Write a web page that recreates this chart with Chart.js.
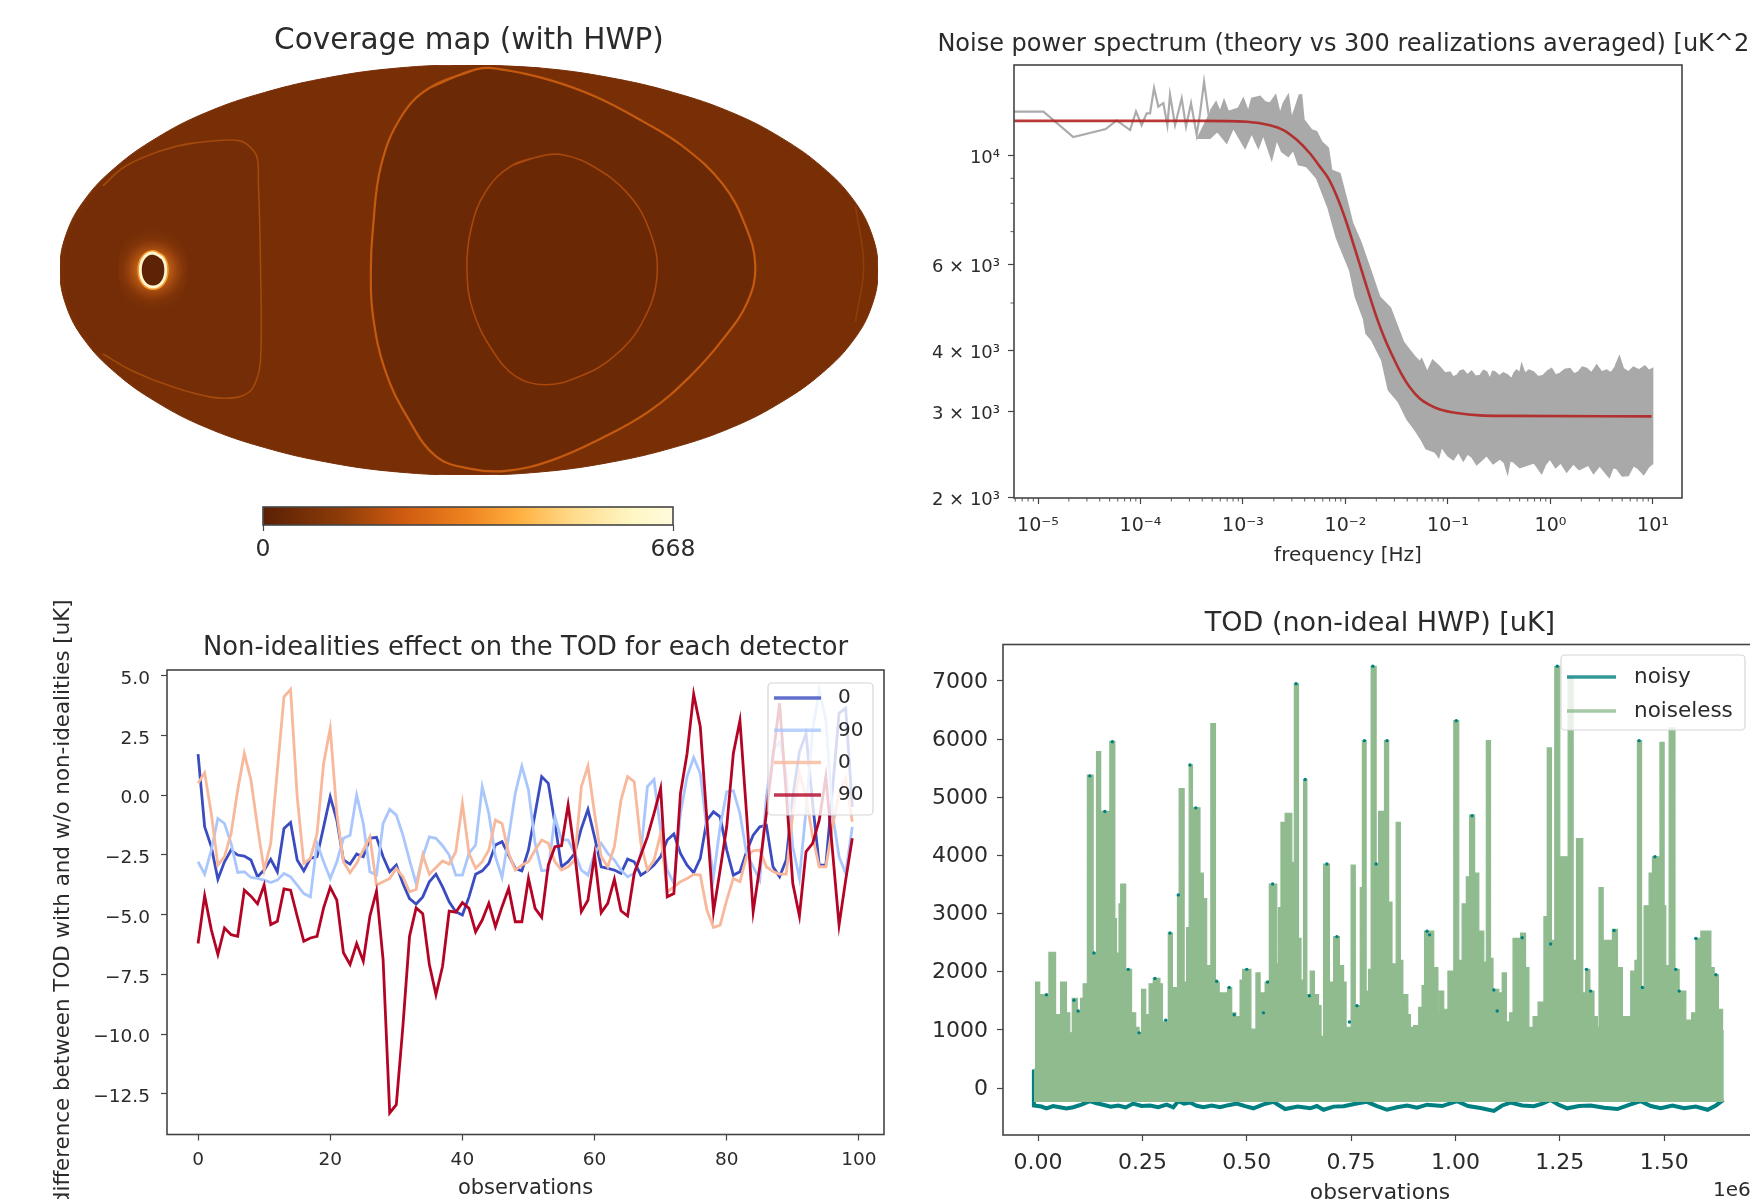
<!DOCTYPE html>
<html>
<head>
<meta charset="utf-8">
<title>Coverage, noise and TOD</title>
<script src="https://cdn.jsdelivr.net/npm/chart.js@4/dist/chart.umd.min.js"></script>
<style>
  html, body { margin: 0; padding: 0; background: #fff; width: 1750px; height: 1199px; overflow: hidden; }
  canvas { position: absolute; filter: blur(0.6px); }
</style>
</head>
<body>
<canvas id="mapChart" width="900" height="490" style="left:0;top:0"></canvas>
<canvas id="barChart" width="540" height="80" style="left:200px;top:490px"></canvas>
<canvas id="psdChart" width="896" height="590" style="left:900px;top:0"></canvas>
<canvas id="diffChart" width="900" height="650" style="left:0;top:590px"></canvas>
<canvas id="todChart" width="900" height="650" style="left:900px;top:590px"></canvas>
<script>
// --- coverage map outlines, in Mollweide plot units (x -2..2, y -1..1)
const skyX = [0,0.35,0.68,1,1.29,1.53,1.73,1.88,1.97,2,1.97,1.88,1.73,1.53,1.29,1,0.68,0.35,0,-0.35,-0.68,-1,-1.29,-1.53,-1.73,-1.88,-1.97,-2,-1.97,-1.88,-1.73,-1.53,-1.29,-1,-0.68,-0.35,0,0.35];
const skyY = [1,0.985,0.94,0.866,0.766,0.643,0.5,0.342,0.174,0,-0.174,-0.342,-0.5,-0.643,-0.766,-0.866,-0.94,-0.985,-1,-0.985,-0.94,-0.866,-0.766,-0.643,-0.5,-0.342,-0.174,0,0.174,0.342,0.5,0.643,0.766,0.866,0.94,0.985,1,0.985];
const bigX = [0.04,-0.19,-0.33,-0.43,-0.47,-0.48,-0.47,-0.41,-0.30,-0.16,0.01,0.18,0.40,0.65,0.88,1.08,1.24,1.36,1.40,1.35,1.24,1.05,0.85,0.62,0.40,0.18,0.04,-0.19];
const bigY = [0.98,0.89,0.75,0.51,0.20,0,-0.22,-0.49,-0.72,-0.91,-0.97,-0.98,-0.93,-0.82,-0.69,-0.52,-0.34,-0.16,0.02,0.22,0.42,0.60,0.725,0.845,0.925,0.975,0.98,0.89];
const ovalX = [0.37,0.21,0.08,0.01,-0.01,0.02,0.12,0.23,0.37,0.54,0.71,0.85,0.92,0.88,0.77,0.60,0.47,0.37,0.21];
const ovalY = [0.56,0.51,0.38,0.20,0,-0.20,-0.40,-0.52,-0.56,-0.52,-0.42,-0.25,-0.02,0.20,0.38,0.51,0.56,0.56,0.51];
const leftX = [-1.79,-1.69,-1.51,-1.34,-1.12,-1.04,-1.03,-1.02,-1.02,-1.06,-1.13,-1.26,-1.45,-1.65,-1.79,-1.86,-1.95,-1.98,-1.95,-1.86,-1.79];
const leftY = [0.41,0.50,0.58,0.62,0.63,0.56,0.42,0.06,-0.45,-0.58,-0.62,-0.62,-0.57,-0.49,-0.41,-0.33,-0.17,0,0.17,0.33,0.41];
const edgeX = [-1.79,-1.69,-1.51,-1.34,-1.12,-1.04,-1.03,-1.02,-1.02,-1.06,-1.13,-1.26,-1.45,-1.65,-1.79];
const edgeY = [0.41,0.50,0.58,0.62,0.63,0.56,0.42,0.06,-0.45,-0.58,-0.62,-0.62,-0.57,-0.49,-0.41];
const arcX = [1.89,1.93,1.89];
const arcY = [0.31,0.02,-0.25];
const holeX = [-1.545,-1.50,-1.483,-1.50,-1.545,-1.59,-1.607,-1.59,-1.545,-1.50];
const holeY = [0.083,0.059,0,-0.059,-0.083,-0.059,0,0.059,0.083,0.059];
const haloX = [-1.545,-1.43,-1.375,-1.43,-1.545,-1.66,-1.715,-1.66,-1.545,-1.43];
const haloY = [0.26,0.18,0,-0.18,-0.26,-0.18,0,0.18,0.26,0.18];

// --- colour bar
const barMin = 0;
const barMax = 668;
const barStops = [0,0.18,0.34,0.5,0.62,0.76,0.9,1];
const barColors = ['#5a2005','#8a3a08','#cf5a10','#ee8420','#ffae3e','#ffdc8c','#fff6c4','#fffbdc'];

const lowLogF = [-5.234,-4.947,-4.656,-4.339,-4.233,-4.102,-4.044,-3.989,-3.940,-3.907,-3.868,-3.826,-3.777,-3.738,-3.712,-3.663,-3.598,-3.556,-3.507,-3.452,-3.419,-3.380,-3.338,-3.299];
const lowLogP = [4.0906,4.0906,4.0386,4.055,4.0726,4.053,4.091,4.063,4.087,4.087,4.139,4.101,4.108,4.063,4.125,4.063,4.118,4.060,4.108,4.043,4.087,4.152,4.087,4.043];
const upperLogF = [-3.322,-3.263,-3.224,-3.185,-3.143,-3.045,-2.997,-2.948,-2.915,-2.834,-2.785,-2.737,-2.681,-2.639,-2.606,-2.558,-2.525,-2.450,-2.428,-2.405,-2.330,-2.281,-2.232,-2.167,-2.135,-2.054,-1.984,-1.931,-1.852,-1.746,-1.667,-1.561,-1.436,-1.371,-1.322,-1.273,-1.257,-1.202,-1.150,
  -1.078,-1.03,-0.980,-0.95,-0.915,-0.88,-0.850,-0.81,-0.769,-0.73,-0.688,-0.655,-0.623,-0.590,-0.565,-0.542,-0.50,-0.460,-0.42,-0.379,-0.355,-0.330,-0.30,-0.281,-0.249,-0.21,-0.167,-0.12,-0.070,-0.03,0.011,0.05,0.093,0.14,0.190,0.23,0.272,0.31,0.353,0.40,0.451,0.50,0.548,0.59,0.629,0.672,0.711,0.76,0.808,0.865,0.922,0.96,0.997];
const upperLogP = [4.091,4.111,4.091,4.115,4.091,4.098,4.118,4.091,4.118,4.122,4.111,4.108,4.125,4.087,4.108,4.125,4.077,4.125,4.125,4.074,4.053,4.050,4.029,4.016,3.971,3.964,3.908,3.863,3.825,3.761,3.712,3.689,3.620,3.602,3.589,3.579,3.585,3.558,3.582,
  3.568,3.556,3.558,3.548,3.551,3.560,3.562,3.552,3.560,3.549,3.551,3.561,3.558,3.544,3.559,3.558,3.550,3.556,3.552,3.544,3.556,3.562,3.556,3.574,3.555,3.562,3.558,3.548,3.551,3.560,3.565,3.552,3.555,3.563,3.565,3.554,3.558,3.568,3.565,3.556,3.572,3.558,3.562,3.556,3.568,3.590,3.565,3.558,3.568,3.562,3.570,3.561,3.565];
const lowerLogF = [-3.452,-3.322,-3.250,-3.159,-3.094,-2.980,-2.915,-2.850,-2.802,-2.720,-2.671,-2.623,-2.558,-2.509,-2.460,-2.379,-2.281,-2.169,-2.090,-1.958,-1.905,-1.825,-1.799,-1.745,-1.647,-1.582,-1.485,-1.403,-1.322,-1.257,-1.215,
  -1.127,-1.09,-1.062,-1.0,-0.948,-0.899,-0.85,-0.81,-0.769,-0.72,-0.671,-0.623,-0.56,-0.493,-0.45,-0.418,-0.395,-0.363,-0.30,-0.233,-0.16,-0.086,-0.05,-0.005,0.05,0.10,0.158,0.223,0.28,0.369,0.42,0.48,0.574,0.61,0.646,0.70,0.759,0.81,0.857,0.91,0.96,0.997];
const lowerLogP = [4.036,4.036,4.050,4.026,4.057,4.016,4.046,4.016,4.043,3.992,4.033,4.009,3.999,4.012,3.982,3.978,3.954,3.893,3.833,3.765,3.712,3.667,3.636,3.623,3.582,3.521,3.497,3.462,3.439,3.418,3.401,
  3.394,3.383,3.404,3.386,3.378,3.394,3.376,3.390,3.384,3.368,3.377,3.387,3.370,3.380,3.372,3.350,3.376,3.374,3.362,3.367,3.372,3.350,3.368,3.380,3.362,3.372,3.353,3.370,3.358,3.367,3.350,3.366,3.342,3.362,3.360,3.345,3.346,3.366,3.360,3.348,3.364,3.370];
const theoryLogF = [-5.234,-4,-3.4,-2.964,-2.737,-2.606,-2.476,-2.346,-2.249,-2.167,-2.08,-2.0,-1.852,-1.692,-1.615,-1.533,-1.452,-1.371,-1.273,-1.176,-1.078,-0.915,-0.688,-0.428,0.987];
const theoryLogP = [4.0717,4.0717,4.0717,4.070,4.063,4.053,4.033,4.005,3.978,3.954,3.915,3.87,3.772,3.667,3.625,3.587,3.553,3.526,3.503,3.490,3.481,3.474,3.469,3.468,3.467];
const psdXTicks = [1e-5,1e-4,1e-3,1e-2,1e-1,1,10];
const psdXLabels = ['10⁻⁵','10⁻⁴','10⁻³','10⁻²','10⁻¹','10⁰','10¹'];
const psdYTicks = [2000,3000,4000,6000,10000];
const psdYLabels = ['2 × 10³','3 × 10³','4 × 10³','6 × 10³','10⁴'];
const psdXMinor = [6e-6,7e-6,8e-6,9e-6,2e-5,3e-5,4e-5,5e-5,6e-5,7e-5,8e-5,9e-5,2e-4,3e-4,4e-4,5e-4,6e-4,7e-4,8e-4,9e-4,2e-3,3e-3,4e-3,5e-3,6e-3,7e-3,8e-3,9e-3,2e-2,3e-2,4e-2,5e-2,6e-2,7e-2,8e-2,9e-2,0.2,0.3,0.4,0.5,0.6,0.7,0.8,0.9,2,3,4,5,6,7,8,9];
const psdYMinor = [5000,7000,8000,9000];

// --- non-ideality difference per detector, one value per observation
const detLabels = ['0','90','0','90'];
const detColors = ['#3b4cc0','#aac7fd','#f7b89c','#b40426'];
const det0a = [1.71,-1.33,-2.16,-3.52,-2.79,-2.30,-2.51,-2.55,-2.72,-3.42,-3.14,-2.69,-3.21,-1.40,-1.15,-2.72,-3.17,-2.65,-2.58,-1.33,-0.07,-1.05,-2.72,-2.89,-2.47,-2.58,-1.81,-1.77,-2.58,-3.21,-2.93,-3.70,-4.33,-4.56,-4.26,-3.63,-3.31,-3.84,-4.47,-4.88,-5.02,-4.26,-3.31,-3.17,-2.86,-2.09,-1.95,-2.51,-3.07,-3.17,-2.30,-0.77,0.77,0.49,-1.19,-3.00,-2.79,-2.44,-1.40,-0.60,-1.75,-3.00,-3.07,-3.14,-3.28,-2.68,-2.79,-3.35,-3.17,-2.93,-2.58,-1.88,-1.63,-2.44,-2.93,-3.25,-2.65,-1.05,-0.70,-0.91,-2.30,-3.35,-3.21,-2.37,-1.68,-1.33,-1.26,-3.00,-3.42,-2.72,-0.07,1.80,2.58,-0.35,-2.93,-2.93,0.21,3.42,3.63,-0.50];
const det90a = [-2.79,-3.31,-2.30,-0.98,-1.19,-2.02,-3.24,-3.21,-3.45,-3.49,-3.56,-3.66,-3.56,-3.28,-3.42,-3.77,-4.12,-4.26,-2.02,-2.79,-3.49,-2.79,-1.81,-1.68,0.0,-1.19,-3.21,-3.35,-1.19,-0.60,-0.84,-1.68,-2.72,-3.70,-2.58,-1.75,-1.81,-2.12,-2.51,-3.35,-3.35,-2.44,-2.09,0.35,-0.77,-2.58,-3.45,-1.75,0.07,1.21,0.21,-2.02,-3.17,-3.14,-0.91,-1.88,-1.88,-2.44,-3.14,-3.35,-2.44,-2.02,-2.44,-2.72,-3.14,-3.42,-3.28,-2.44,0.35,0.65,-1.47,-3.14,-3.70,-0.77,0.77,1.57,0.90,-1.47,-3.42,-1.33,0.14,0.18,-0.77,-2.44,-3.0,-3.56,-0.07,1.88,2.23,0.91,-2.16,-3.49,-0.63,2.72,4.39,3.14,-0.77,-2.58,-3.28,-1.33];
const det0b = [0.49,0.93,-0.77,-2.93,-2.58,-1.61,0.21,1.74,0.63,-1.33,-3.14,-2.02,1.04,4.11,4.42,-0.07,-2.86,-2.65,-1.61,1.32,2.79,-0.77,-2.79,-3.25,-2.86,-2.30,-1.75,-3.77,-3.63,-3.49,-3.07,-3.42,-4.05,-3.95,-2.51,-3.31,-3.03,-2.76,-2.89,-2.37,-0.35,-2.44,-3.07,-2.79,-2.30,-1.05,-1.19,-2.44,-3.14,-2.93,-2.79,-2.30,-1.88,-2.02,-2.79,-3.14,-3.00,-2.72,0.35,1.21,-0.77,-2.58,-3.00,-2.16,-0.21,0.77,0.56,-2.02,-3.14,-2.72,-1.61,-4.05,-3.84,-3.63,-3.49,-3.32,-3.35,-4.81,-5.54,-5.44,-4.40,-3.49,-3.63,-2.58,-2.33,-2.30,-3.0,-3.2,-3.31,-3.31,-0.77,0.91,-0.07,-1.74,-3.0,-3.0,-1.33,0.07,0.70,-1.12];
const det90b = [-6.21,-4.21,-5.63,-6.67,-5.56,-5.84,-5.91,-3.98,-4.23,-4.55,-3.77,-5.42,-5.28,-3.93,-3.98,-5.07,-6.12,-5.98,-5.91,-4.72,-3.86,-4.40,-6.60,-7.09,-6.21,-6.95,-5.07,-4.02,-6.88,-13.30,-12.95,-9.67,-5.91,-4.72,-4.96,-7.09,-8.35,-7.16,-4.86,-4.90,-4.50,-4.74,-5.72,-5.23,-4.53,-5.51,-4.67,-3.91,-5.30,-5.30,-3.49,-4.74,-5.12,-2.93,-2.16,-2.12,-0.42,-2.44,-4.88,-4.40,-2.51,-4.92,-4.53,-3.52,-4.84,-5.06,-3.28,-2.51,-1.75,-0.77,0.28,-4.26,-4.12,0.07,1.74,4.22,2.86,-1.05,-4.88,-3.14,-1.33,1.74,3.11,-0.77,-4.88,-3.0,-0.77,1.60,3.84,0.07,-3.70,-5.06,-2.37,-2.02,-1.05,0.77,-2.30,-5.44,-3.56,-1.81];
const diffXTicks = [0,20,40,60,80,100];
const diffYTicks = [5,2.5,0,-2.5,-5,-7.5,-10,-12.5];

// --- time ordered data, x in units of 1e6 observations
const todObs = [-0.010,-0.006,0.004,0.026,0.042,0.054,0.068,0.076,0.082,0.094,0.102,0.108,0.118,0.132,0.140,0.150,0.172,0.184,0.188,0.194,
  0.198,0.210,0.224,0.234,0.242,0.248,0.258,0.266,0.276,0.292,0.298,0.312,0.322,0.334,0.338,0.350,0.356,0.362,0.370,0.388,
  0.396,0.404,0.414,0.425,0.434,0.454,0.464,0.474,0.484,0.490,0.510,0.522,0.532,0.544,0.554,0.572,0.576,0.582,0.592,0.608,
  0.614,0.624,0.630,0.636,0.644,0.652,0.662,0.672,0.678,0.684,0.698,0.708,0.722,0.732,0.738,0.750,0.760,0.772,0.777,0.786,
  0.792,0.798,0.810,0.816,0.830,0.840,0.848,0.858,0.868,0.874,0.886,0.892,0.900,0.912,0.920,0.926,0.948,0.958,0.961,0.972,
  0.982,0.996,1.008,1.016,1.026,1.034,1.046,1.056,1.068,1.074,1.084,1.090,1.104,1.112,1.122,1.130,1.138,1.156,1.168,1.176,
  1.186,1.198,1.212,1.220,1.230,1.238,1.250,1.270,1.282,1.290,1.305,1.312,1.322,1.332,1.340,1.344,1.354,1.376,1.388,1.400,
  1.420,1.430,1.436,1.446,1.452,1.464,1.472,1.490,1.500,1.504,1.512,1.526,1.536,1.552,1.566,1.576,1.588,1.612,1.620,1.630,
  1.640,1.643];
const todNoiseless = [324,1822,1604,2334,1260,1822,1292,948,1541,1323,1541,1791,5379,2321,5784,4755,5959,2914,2321,3164,
  3507,2040,1292,1042,948,1697,1260,1791,1884,1791,1136,2664,1728,3320,5148,1822,2758,5554,4817,3694,
  3257,2103,6265,1822,1635,1728,1292,1229,1853,2040,1011,1978,1635,1822,3507,2134,3101,4568,4724,3881,
  6951,2571,1853,5304,1604,2009,1604,1416,886,3850,1822,2602,2103,1822,1042,3831,1416,3444,5972,1666,
  2040,7251,3850,4755,5972,3195,2134,4568,2196,1604,1260,1042,1073,1385,1760,2696,2072,1260,1666,1354,
  2009,6315,2196,3164,3632,4692,3694,2696,2165,5972,2228,1697,1635,1978,1136,1292,2571,2664,2072,1042,
  1229,1479,2945,5847,2540,7251,3975,7064,2196,4287,1635,2040,1666,1229,1042,3444,2540,2726,2072,1229,
  2009,2196,5972,1728,3133,3694,3975,5941,3133,2103,6190,2040,1666,1167,1292,2571,2696,2072,1947,1354,
  980,980];
const floorObs = [-0.010,-0.010,0.008,0.020,0.036,0.052,0.068,0.084,0.104,0.124,0.140,0.156,0.174,0.192,0.210,0.228,0.248,0.268,0.288,0.308,
  0.324,0.336,0.350,0.364,0.380,0.396,0.416,0.436,0.456,0.476,0.496,0.516,0.540,0.564,0.578,0.592,0.622,0.652,0.668,0.684,
  0.708,0.732,0.760,0.788,0.812,0.836,0.860,0.884,0.908,0.932,0.968,1.004,1.030,1.060,1.092,1.112,1.132,1.160,1.188,1.208,
  1.228,1.248,1.268,1.296,1.324,1.356,1.388,1.416,1.444,1.468,1.492,1.520,1.548,1.576,1.604,1.624,1.642];
const floorNoisy = [320,-300,-318,-349,-310,-331,-352,-331,-285,-225,-262,-287,-320,-300,-335,-268,-310,-300,-330,-287,
  -331,-225,-268,-250,-305,-331,-300,-331,-295,-268,-312,-349,-280,-237,-300,-362,-320,-349,-310,-374,
  -320,-312,-270,-237,-310,-374,-330,-300,-340,-287,-310,-225,-310,-345,-393,-300,-250,-300,-312,-270,
  -206,-290,-349,-310,-300,-340,-362,-290,-225,-310,-349,-300,-349,-320,-374,-300,-206];
const peakObs = [0.020,0.086,0.096,0.124,0.134,0.160,0.178,0.216,0.242,0.280,0.306,0.316,0.336,0.364,0.378,0.428,0.458,0.470,0.500,0.540,0.550,0.562,0.618,0.640,0.650,0.692,0.716,0.746,0.764,0.782,0.802,0.810,0.836,0.932,0.938,1.002,1.040,1.092,1.100,1.160,1.228,1.244,1.314,1.324,1.380,1.440,1.448,1.478,1.528,1.536,1.576,1.624];
const peakNoisy = [1604,1510,1323,5366,2321,4755,5953,2040,948,1884,1167,2664,3320,5554,4817,1835,1728,1260,2040,1292,1822,3507,6951,5304,1585,3850,2602,1136,1416,5972,7251,3850,5972,2696,2633,6315,4680,1685,1323,2583,2477,7251,2040,1666,2708,5972,1728,3975,2040,1666,2571,1947];
const todXTicks = [0,0.25,0.5,0.75,1,1.25,1.5];
const todYTicks = [0,1000,2000,3000,4000,5000,6000,7000];

// --- shared drawing bits
const FAMILY = '"DejaVu Sans", sans-serif';
const INK = '#2b2b2b';
const AXIS = '#454545';

function xy(xs, ys) { return xs.map((x, i) => ({x: x, y: ys[i]})); }
function logXY(xs, ys) { return xs.map((x, i) => ({x: Math.pow(10, x), y: Math.pow(10, ys[i])})); }

function fixedFont(size) { return {family: FAMILY, size: size, lineHeight: 1, weight: 'normal'}; }

// title sized so the plot top lands where it should
function titleOpts(text, size, cy, canvasTop, plotTop, full) {
  const top = cy - canvasTop - size / 2;
  return {display: true, text: text, color: INK, font: fixedFont(size), fullSize: !!full,
    padding: {top: top, bottom: plotTop - canvasTop - top - size}};
}

function axis(min, max, ticks, label, opts) {
  const o = opts || {};
  return {
    type: o.type || 'linear', min: min, max: max, offset: false,
    title: o.title || {display: false},
    grid: {drawOnChartArea: false, drawTicks: true, tickLength: 6, tickColor: AXIS, tickWidth: 1.2},
    border: {display: false},
    ticks: {color: INK, font: {family: FAMILY, size: o.size || 18.5}, padding: o.padding || 9,
      autoSkip: false, maxRotation: 0, minRotation: 0, includeBounds: false,
      callback: v => label(v)},
    afterBuildTicks: s => { s.ticks = ticks.map(v => ({value: v})); },
    afterFit: s => { if (s.isHorizontal()) s.height = o.box; else s.width = o.box; }
  };
}

const framePlugin = {
  id: 'frame',
  afterDatasetsDraw(chart) {
    const a = chart.chartArea, c = chart.ctx;
    c.save();
    c.strokeStyle = AXIS;
    c.lineWidth = 1.6;
    c.strokeRect(a.left, a.top, a.right - a.left, a.bottom - a.top);
    c.restore();
  }
};

// y tick text sits a little below its tick in the reference
const nudgePlugin = {
  id: 'nudgeY',
  beforeDraw(chart, args, o) {
    chart.scales.y.getLabelItems().forEach(it => { it.options.translation[1] += o.by || 0; });
  }
};

// short unlabelled ticks for the log axes
const minorPlugin = {
  id: 'minorMarks',
  afterDatasetsDraw(chart, args, opts) {
    const a = chart.chartArea, c = chart.ctx;
    c.save();
    c.strokeStyle = AXIS;
    c.lineWidth = 0.9;
    c.beginPath();
    (opts.x || []).forEach(v => {
      const p = chart.scales.x.getPixelForValue(v);
      c.moveTo(p, a.bottom); c.lineTo(p, a.bottom + 3.5);
    });
    (opts.y || []).forEach(v => {
      const p = chart.scales.y.getPixelForValue(v);
      c.moveTo(a.left, p); c.lineTo(a.left - 3.5, p);
    });
    c.stroke();
    c.restore();
  }
};

// matplotlib style frame over the data, the built in legend cannot overlap the plot
const boxLegend = {
  id: 'boxLegend',
  afterDraw(chart, args, o) {
    if (!o.items) return;
    const c = chart.ctx;
    c.save();
    c.beginPath();
    c.roundRect(o.x, o.y, o.w, o.h, 4);
    c.fillStyle = 'rgba(255,255,255,0.8)';
    c.fill();
    c.strokeStyle = '#d6d6d6';
    c.lineWidth = 1.2;
    c.stroke();
    c.font = o.size + 'px ' + FAMILY;
    c.textBaseline = 'middle';
    o.items.forEach((it, i) => {
      const y = o.first + i * o.step;
      c.strokeStyle = it.color;
      c.globalAlpha = 0.8;
      c.lineWidth = 3.5;
      c.beginPath();
      c.moveTo(o.x + o.handleX, y);
      c.lineTo(o.x + o.handleX + o.handleW, y);
      c.stroke();
      c.globalAlpha = 1;
      c.fillStyle = INK;
      c.fillText(it.text, o.x + o.textX, y);
    });
    c.restore();
  }
};

// axis offset text of the TOD panel
const offsetText = {
  id: 'offsetText',
  afterDraw(chart, args, o) {
    if (!o.text) return;
    const c = chart.ctx;
    c.save();
    c.font = o.size + 'px ' + FAMILY;
    c.fillStyle = INK;
    c.textBaseline = 'middle';
    c.fillText(o.text, o.x, o.y);
    c.restore();
  }
};

Chart.defaults.animation = false;
Chart.defaults.responsive = false;
Chart.defaults.maintainAspectRatio = false;
Chart.defaults.font.family = FAMILY;
Chart.defaults.plugins.tooltip.enabled = false;
Chart.defaults.plugins.legend.display = false;

function shape(points, fill, line, width, tension, order) {
  return {data: points, showLine: true, fill: fill ? 'shape' : false, backgroundColor: fill || 'transparent',
    borderColor: line || fill, borderWidth: width, tension: tension, pointRadius: 0, order: order};
}

// soft glow round the bright ring, fades out from the hole
function haloFill(ctx) {
  const ch = ctx.chart;
  if (!ch.chartArea) return 'transparent';
  const px = ch.scales.x.getPixelForValue(holeX[0]);
  const py = ch.scales.y.getPixelForValue(0);
  const g = ch.ctx.createRadialGradient(px, py, 8, px, py, 42);
  g.addColorStop(0, 'rgba(250,150,40,0.85)');
  g.addColorStop(0.35, 'rgba(235,120,30,0.45)');
  g.addColorStop(0.7, 'rgba(190,85,20,0.14)');
  g.addColorStop(1, 'rgba(190,85,20,0)');
  return g;
}

// --- coverage map
new Chart(document.getElementById('mapChart'), {
  type: 'scatter',
  data: {datasets: [
    shape(xy(skyX, skyY), '#792f06', '#792f06', 1, 0.4, 20),
    shape(xy(leftX, leftY), '#742d06', '#742d06', 0.5, 0.3, 19),
    shape(xy(edgeX, edgeY), null, '#a34a0c', 1.6, 0.3, 18),
    shape(xy(arcX, arcY), null, '#8f3f09', 1.4, 0.4, 17),
    shape(xy(bigX, bigY), '#6b2905', '#c45a10', 2.2, 0.4, 16),
    shape(xy(ovalX, ovalY), '#6a2805', '#a9480c', 1.6, 0.4, 15),
    {data: xy(haloX, haloY), showLine: true, fill: 'shape', backgroundColor: haloFill, borderColor: 'rgba(0,0,0,0)', borderWidth: 0, tension: 0.4, pointRadius: 0, order: 14},
    shape(xy(holeX, holeY), '#5c2306', '#f59a30', 6, 0.4, 13),
    shape(xy(holeX, holeY), '#5c2306', '#fff6d0', 2.8, 0.4, 12)
  ]},
  options: {
    layout: {autoPadding: false, padding: {left: 60, right: 22, bottom: 15}},
    plugins: {title: titleOpts('Coverage map (with HWP)', 29.5, 41, 0, 65)},
    scales: {
      x: {type: 'linear', min: -2, max: 2, display: false},
      y: {type: 'linear', min: -1, max: 1, display: false}
    }
  }
});

// --- colour bar under the map
new Chart(document.getElementById('barChart'), {
  type: 'bar',
  data: {labels: [''], datasets: [{
    data: [barMax],
    barPercentage: 1, categoryPercentage: 1,
    backgroundColor(ctx) {
      const a = ctx.chart.chartArea;
      if (!a) return barColors[0];
      const g = ctx.chart.ctx.createLinearGradient(a.left, 0, a.right, 0);
      barStops.forEach((s, i) => g.addColorStop(s, barColors[i]));
      return g;
    }
  }]},
  options: {
    indexAxis: 'y',
    layout: {autoPadding: false, padding: {left: 63, right: 67, top: 17}},
    scales: {
      x: axis(barMin, barMax, [barMin, barMax], v => String(v), {size: 23.5, padding: 5, box: 45}),
      y: {display: false}
    }
  },
  plugins: [framePlugin]
});

// --- noise power spectrum
// the empty right axis only keeps the full width title centred over the plot
const bandPoints = logXY(upperLogF, upperLogP).concat(logXY(lowerLogF, lowerLogP).reverse());
new Chart(document.getElementById('psdChart'), {
  type: 'scatter',
  data: {datasets: [
    {data: logXY(theoryLogF, theoryLogP), showLine: true, borderColor: 'rgba(178,34,34,0.9)', borderWidth: 2.6, cubicInterpolationMode: 'monotone', pointRadius: 0, order: 1},
    shape(bandPoints, '#a9a9a9', '#a9a9a9', 1.4, 0, 2),
    {data: logXY(lowLogF, lowLogP), showLine: true, borderColor: '#ababab', borderWidth: 2.2, pointRadius: 0, order: 3}
  ]},
  options: {
    layout: {autoPadding: false},
    plugins: {
      title: titleOpts('Noise power spectrum (theory vs 300 realizations averaged) [uK^2]', 24, 45, 0, 65, true),
      minorMarks: {x: psdXMinor, y: psdYMinor},
      nudgeY: {by: 2.5}
    },
    scales: {
      x: axis(5.83e-6, 19.2, psdXTicks, v => psdXLabels[psdXTicks.indexOf(v)], {type: 'logarithmic', box: 92, padding: 11, size: 19,
        title: {display: true, text: 'frequency [Hz]', color: INK, font: fixedFont(20), padding: {top: 0, bottom: 24}}}),
      y: axis(1995, 15350, psdYTicks, v => psdYLabels[psdYTicks.indexOf(v)], {type: 'logarithmic', box: 114, padding: 8, size: 18}),
      spare: {position: 'right', display: true, min: 0, max: 1,
        grid: {display: false}, border: {display: false}, ticks: {display: false},
        afterFit: s => { s.width = 114; }}
    }
  },
  plugins: [framePlugin, minorPlugin, nudgePlugin]
});

// --- non-ideality effect per detector
new Chart(document.getElementById('diffChart'), {
  type: 'scatter',
  data: {datasets: [det0a, det90a, det0b, det90b].map((vals, k) => ({
    data: vals.map((v, i) => ({x: i, y: v})),
    showLine: true, borderColor: detColors[k], borderWidth: 2.8, pointRadius: 0, order: 4 - k
  }))},
  options: {
    layout: {autoPadding: false, padding: {right: 16}},
    plugins: {
      title: titleOpts('Non-idealities effect on the TOD for each detector', 25.8, 648, 590, 670),
      boxLegend: {x: 768, y: 93, w: 105, h: 132, first: 108, step: 32.3, size: 20, handleX: 6, handleW: 47, textX: 70,
        items: detLabels.map((t, k) => ({text: t, color: detColors[k]}))},
      nudgeY: {by: 3.5}
    },
    scales: {
      x: axis(-4.7, 103.8, diffXTicks, v => String(v), {box: 105.5, padding: 9,
        title: {display: true, text: 'observations', color: INK, font: fixedFont(21), padding: {top: 0, bottom: 40.5}}}),
      y: axis(-14.2, 5.23, diffYTicks, v => v.toFixed(1).replace('-', '−'), {box: 167, padding: 11,
        title: {display: true, text: 'difference between TOD with and w/o non-idealities [uK]', color: INK, font: fixedFont(21.4), padding: {top: 53, bottom: 0}}})
    }
  },
  plugins: [framePlugin, boxLegend, nudgePlugin]
});

// --- TOD
new Chart(document.getElementById('todChart'), {
  type: 'scatter',
  data: {datasets: [
    {data: xy(peakObs, peakNoisy), backgroundColor: '#008080', pointRadius: 1.7, pointBorderWidth: 0, order: 1},
    {data: xy(todObs, todNoiseless), showLine: true, stepped: true, fill: {value: -240}, backgroundColor: '#8fbb8f', borderColor: '#8fbb8f', borderWidth: 1.2, pointRadius: 0, order: 2},
    {data: xy(floorObs, floorNoisy), showLine: true, borderColor: '#008080', borderWidth: 4, pointRadius: 0, order: 3}
  ]},
  options: {
    layout: {autoPadding: false, padding: {right: 43}},
    plugins: {
      title: titleOpts('TOD (non-ideal HWP) [uK]', 27, 624, 590, 644.5),
      boxLegend: {x: 661, y: 65, w: 184, h: 75, first: 87, step: 34, size: 21.5, handleX: 6, handleW: 49, textX: 73,
        items: [{text: 'noisy', color: '#008080'}, {text: 'noiseless', color: '#8fbc8f'}]},
      offsetText: {text: '1e6', size: 20, x: 813, y: 601},
      nudgeY: {by: 1}
    },
    scales: {
      x: axis(-0.084, 1.7225, todXTicks, v => v.toFixed(2), {box: 105, padding: 9, size: 22,
        title: {display: true, text: 'observations', color: INK, font: fixedFont(21.8), padding: {top: 0, bottom: 36}}}),
      y: axis(-808, 7625, todYTicks, v => String(v), {box: 103, padding: 9, size: 22})
    }
  },
  plugins: [framePlugin, boxLegend, offsetText, nudgePlugin]
});
</script>
</body>
</html>
